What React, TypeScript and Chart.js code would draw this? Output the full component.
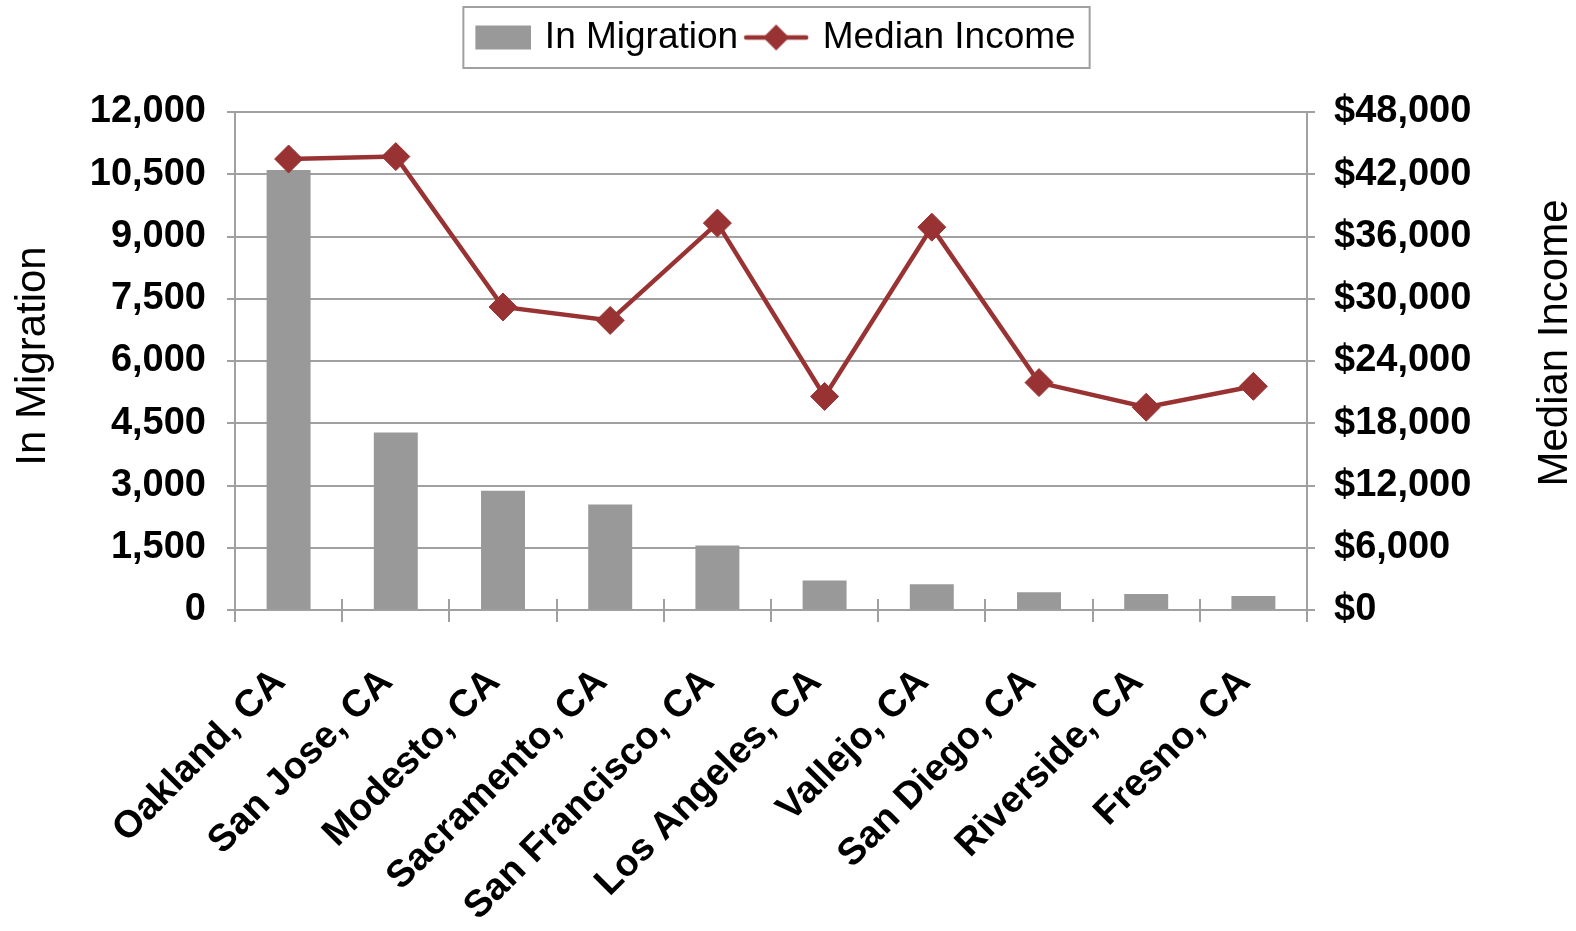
import React, { useEffect, useRef } from 'react';
import { Chart, registerables } from 'chart.js';

Chart.register(...registerables);

const categories = [
  'Oakland, CA',
  'San Jose, CA',
  'Modesto, CA',
  'Sacramento, CA',
  'San Francisco, CA',
  'Los Angeles, CA',
  'Vallejo, CA',
  'San Diego, CA',
  'Riverside, CA',
  'Fresno, CA',
];
const inMigration = [10600, 4275, 2875, 2540, 1555, 710, 620, 430, 385, 335];
const medianIncome = [43470, 43700, 29210, 27910, 37290, 20580, 36900, 21920, 19540, 21560];

const seriesNames = ['In Migration', 'Median Income'];
const leftAxisTitle = 'In Migration';
const rightAxisTitle = 'Median Income';

const FONT = '"Liberation Sans", Arial, Helvetica, sans-serif';
const BAR_COLOR = '#999999';
const LINE_COLOR = '#993333';
const GRID_COLOR = '#a0a0a0';

function makeRectIcon(): HTMLCanvasElement {
  const c = document.createElement('canvas');
  c.width = 66;
  c.height = 26;
  const ctx = c.getContext('2d')!;
  ctx.fillStyle = BAR_COLOR;
  ctx.fillRect(10, 1, 56, 24);
  return c;
}

function makeLineIcon(): HTMLCanvasElement {
  const c = document.createElement('canvas');
  c.width = 66;
  c.height = 28;
  const ctx = c.getContext('2d')!;
  ctx.strokeStyle = LINE_COLOR;
  ctx.lineWidth = 4.5;
  ctx.lineCap = 'round';
  ctx.beginPath();
  ctx.moveTo(3, 14);
  ctx.lineTo(63, 14);
  ctx.stroke();
  ctx.fillStyle = LINE_COLOR;
  ctx.beginPath();
  ctx.moveTo(33, 1);
  ctx.lineTo(46, 14);
  ctx.lineTo(33, 27);
  ctx.lineTo(20, 14);
  ctx.closePath();
  ctx.fill();
  return c;
}

const LEGEND_EXTRA = 46;

const legendSpacer = {
  id: 'legendSpacer',
  beforeLayout(chart: any) {
    const lg = chart.legend;
    if (lg && !lg.__patched) {
      const orig = lg.fit;
      lg.fit = function (this: any) {
        orig.call(this);
        this.height += LEGEND_EXTRA;
      };
      lg.__patched = true;
    }
  },
};

const decorPlugin = {
  id: 'decor',
  afterDraw(chart: any) {
    const ctx = chart.ctx as CanvasRenderingContext2D;
    const legend = chart.legend;
    if (legend && legend.legendHitBoxes && legend.legendHitBoxes.length) {
      const boxes = legend.legendHitBoxes;
      const left = Math.min(...boxes.map((b: any) => b.left)) - 7;
      const right = Math.max(...boxes.map((b: any) => b.left + b.width)) + 14;
      const top = Math.min(...boxes.map((b: any) => b.top)) - 12;
      const bottom = Math.max(...boxes.map((b: any) => b.top + b.height)) + 12;
      ctx.save();
      ctx.strokeStyle = GRID_COLOR;
      ctx.lineWidth = 2;
      ctx.strokeRect(left, top, right - left, bottom - top);
      ctx.restore();
    }
    const area = chart.chartArea;
    // short tick stubs above the category axis at category boundaries
    const n = chart.data.labels.length;
    const step = (area.right - area.left) / n;
    ctx.save();
    ctx.strokeStyle = GRID_COLOR;
    ctx.lineWidth = 2;
    ctx.beginPath();
    for (let i = 1; i < n; i++) {
      const x = Math.round(area.left + i * step);
      ctx.moveTo(x, area.bottom - 11);
      ctx.lineTo(x, area.bottom);
    }
    ctx.stroke();
    ctx.restore();

    const midY = (area.top + area.bottom) / 2;
    ctx.save();
    ctx.font = `42px ${FONT}`;
    ctx.fillStyle = '#000';
    ctx.textAlign = 'center';
    ctx.textBaseline = 'middle';
    ctx.translate(33, midY - 5);
    ctx.rotate(-Math.PI / 2);
    ctx.fillText(leftAxisTitle, 0, 0);
    ctx.restore();
    ctx.save();
    ctx.font = `42px ${FONT}`;
    ctx.fillStyle = '#000';
    ctx.textAlign = 'center';
    ctx.textBaseline = 'middle';
    ctx.translate(area.right + 248, midY - 18);
    ctx.rotate(-Math.PI / 2);
    ctx.fillText(rightAxisTitle, 0, 0);
    ctx.restore();
  },
};

export default function App() {
  const ref = useRef<HTMLCanvasElement | null>(null);

  useEffect(() => {
    if (!ref.current) return;
    const rectIcon = makeRectIcon();
    const lineIcon = makeLineIcon();
    const tickFont = { family: FONT, size: 38, weight: 'bold' as const };

    const chart = new Chart(ref.current, {
      type: 'bar',
      data: {
        labels: categories,
        datasets: [
          {
            type: 'bar',
            label: seriesNames[0],
            data: inMigration,
            backgroundColor: BAR_COLOR,
            borderWidth: 0,
            yAxisID: 'y',
            barPercentage: 0.41,
            categoryPercentage: 1,
            order: 2,
          } as any,
          {
            type: 'line',
            label: seriesNames[1],
            data: medianIncome,
            borderColor: LINE_COLOR,
            backgroundColor: LINE_COLOR,
            borderWidth: 4.5,
            pointStyle: 'rectRot',
            pointRadius: 14,
            pointBackgroundColor: LINE_COLOR,
            pointBorderColor: LINE_COLOR,
            pointBorderWidth: 1,
            tension: 0,
            yAxisID: 'y1',
            order: 1,
          } as any,
        ],
      },
      options: {
        responsive: false,
        animation: false,
        devicePixelRatio: 1,
        layout: { padding: { top: 9, left: 0, right: 30, bottom: 0 } },
        plugins: {
          tooltip: { enabled: false },
          legend: {
            display: true,
            position: 'top',
            labels: {
              usePointStyle: true,
              pointStyleWidth: 56,
              boxHeight: 26,
              padding: 10,
              color: '#000',
              font: { family: FONT, size: 37 },
              generateLabels: () => [
                {
                  text: seriesNames[0],
                  pointStyle: rectIcon,
                  fillStyle: BAR_COLOR,
                  strokeStyle: BAR_COLOR,
                  lineWidth: 0,
                  hidden: false,
                  datasetIndex: 0,
                } as any,
                {
                  text: seriesNames[1],
                  pointStyle: lineIcon,
                  fillStyle: LINE_COLOR,
                  strokeStyle: LINE_COLOR,
                  lineWidth: 0,
                  hidden: false,
                  datasetIndex: 1,
                } as any,
              ],
            },
          },
        },
        scales: {
          x: {
            offset: true,
            grid: {
              offset: true,
              drawOnChartArea: false,
              drawTicks: true,
              tickLength: 12,
              color: GRID_COLOR,
              lineWidth: 2,
            },
            border: { color: GRID_COLOR, width: 2 },
            ticks: {
              autoSkip: false,
              maxRotation: 45,
              minRotation: 45,
              padding: 38,
              labelOffset: -9,
              color: '#000',
              font: tickFont,
            },
            afterFit: (s: any) => {
              s.height = 321;
            },
          },
          y: {
            position: 'left',
            min: 0,
            max: 12000,
            grid: { color: GRID_COLOR, lineWidth: 2, tickLength: 8 },
            border: { color: GRID_COLOR, width: 2 },
            ticks: {
              stepSize: 1500,
              padding: 21,
              color: '#000',
              font: tickFont,
              callback: (v: any) => Number(v).toLocaleString('en-US'),
            },
            afterFit: (s: any) => {
              s.width = 235;
              s.paddingTop = 112;
            },
          },
          y1: {
            position: 'right',
            min: 0,
            max: 48000,
            grid: { drawOnChartArea: false, color: GRID_COLOR, lineWidth: 2, tickLength: 8 },
            border: { color: GRID_COLOR, width: 2 },
            ticks: {
              stepSize: 6000,
              padding: 19,
              color: '#000',
              font: tickFont,
              callback: (v: any) => '$' + Number(v).toLocaleString('en-US'),
            },
            afterFit: (s: any) => {
              s.width = 239;
            },
          },
        },
      } as any,
      plugins: [legendSpacer, decorPlugin],
    });
    return () => chart.destroy();
  }, []);

  return (
    <div style={{ position: 'fixed', left: 0, top: 0, width: 1576, height: 931, background: '#fff' }}>
      <canvas ref={ref} width={1576} height={931} style={{ width: 1576, height: 931, display: 'block' }} />
    </div>
  );
}
